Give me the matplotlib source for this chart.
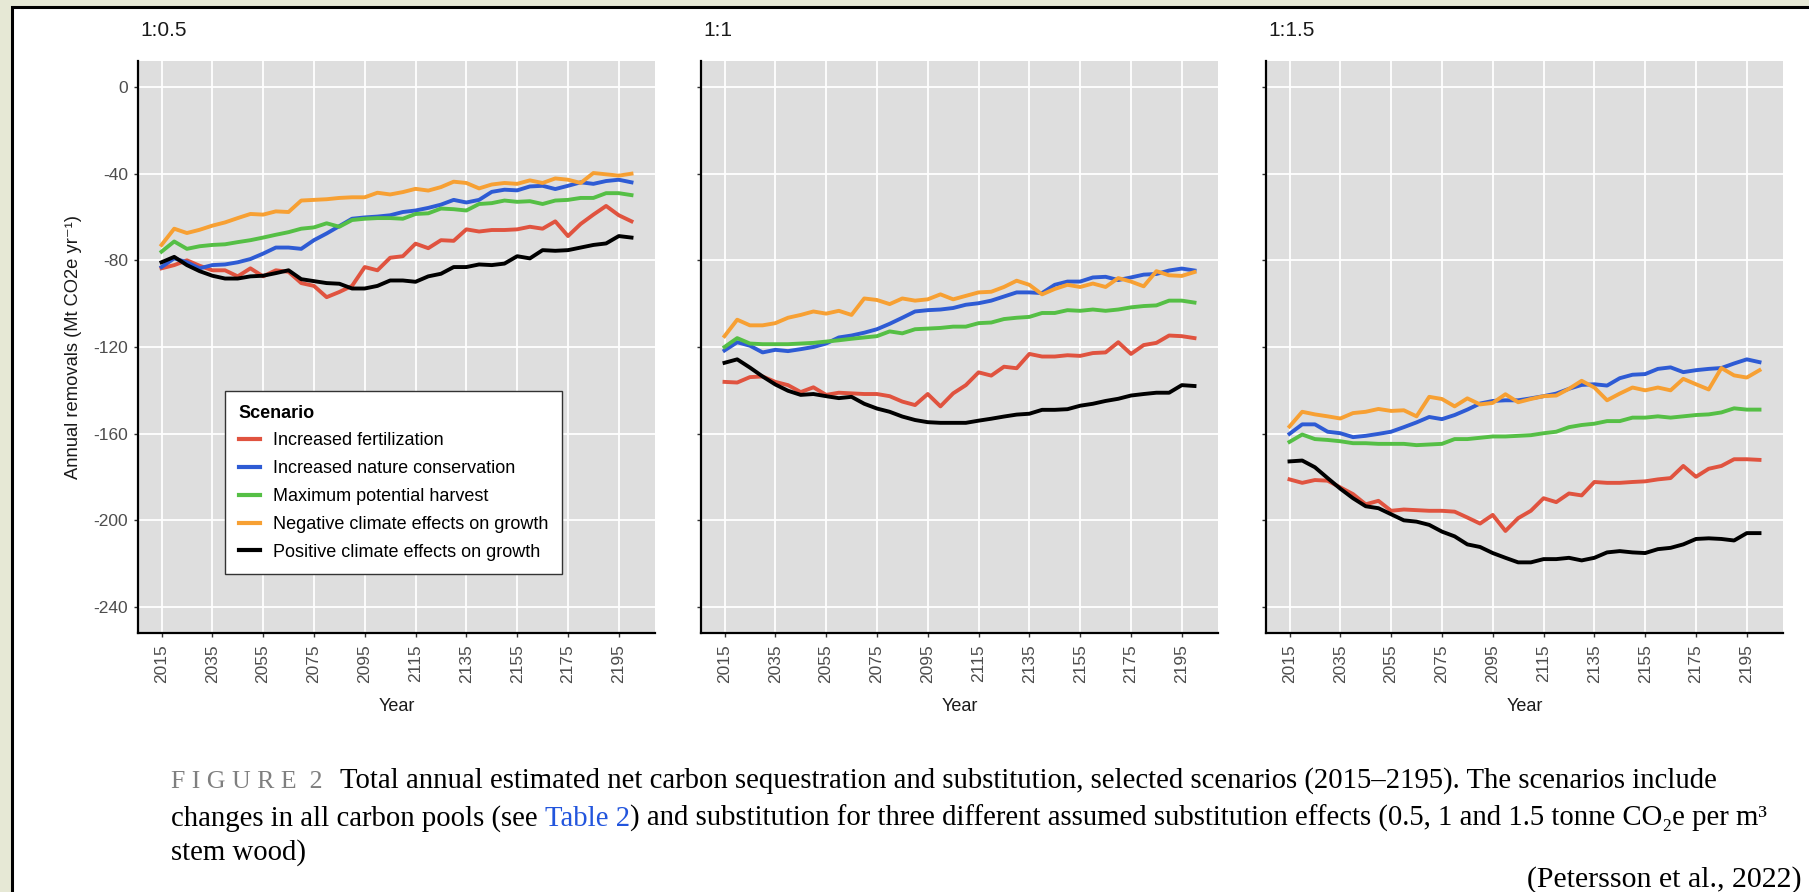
import matplotlib
matplotlib.use("Agg")
import matplotlib.pyplot as plt
from matplotlib.patches import Rectangle
import numpy as np

plt.rcParams["font.family"] = ["Liberation Sans", "DejaVu Sans"]
plt.rcParams["axes.unicode_minus"] = False

years = np.arange(2015, 2201, 5)

ratios = ["1:0.5", "1:1", "1:1.5"]
scenarios = [
    "Increased fertilization",
    "Increased nature conservation",
    "Maximum potential harvest",
    "Negative climate effects on growth",
    "Positive climate effects on growth",
]
colors = ["#E0533F", "#2E5BD4", "#55BF45", "#F7A033", "#000000"]
year_ticks = np.arange(2015, 2196, 20)
removal_ticks = np.arange(0, -241, -40)

# substitution 1:0.5
fert_05 = [-83.7, -82.2, -80.0, -82.5, -84.6, -84.6, -87.4, -83.7, -87.4, -84.6,
           -85.3, -90.5, -91.8, -97.0, -94.6, -91.8, -83.1, -84.6, -78.8, -78.1,
           -72.3, -74.4, -70.7, -71.0, -65.7, -66.7, -66.0, -66.0, -65.7, -64.5,
           -65.4, -62.0, -68.8, -63.2, -58.9, -54.9, -59.2, -62.0]
cons_05 = [-83.1, -79.1, -80.9, -83.7, -82.2, -81.9, -80.9, -79.4, -76.9, -74.1,
           -74.1, -74.7, -70.7, -67.6, -64.2, -60.8, -60.2, -59.8, -59.2, -57.7,
           -57.0, -55.8, -54.3, -52.1, -53.3, -52.1, -48.4, -47.4, -47.7, -45.9,
           -45.6, -47.1, -45.6, -44.0, -44.7, -43.4, -42.8, -44.0]
harv_05 = [-76.0, -71.3, -74.7, -73.5, -72.9, -72.6, -71.6, -70.7, -69.5, -68.2,
           -67.0, -65.4, -64.8, -62.9, -64.5, -61.4, -60.8, -60.5, -60.5, -60.8,
           -58.6, -58.3, -56.1, -56.4, -57.0, -54.0, -53.6, -52.4, -53.0, -52.7,
           -54.0, -52.4, -52.1, -51.2, -51.2, -49.0, -49.0, -49.9]
neg_05 = [-72.9, -65.4, -67.4, -65.9, -64.0, -62.5, -60.5, -58.6, -58.9, -57.4,
          -57.7, -52.4, -52.1, -51.8, -51.2, -50.9, -50.9, -48.8, -49.6, -48.5,
          -47.0, -47.8, -46.2, -43.7, -44.3, -46.8, -45.0, -44.3, -44.7, -43.1,
          -44.3, -42.2, -42.8, -44.3, -39.7, -40.3, -40.9, -40.0]
pos_05 = [-80.9, -78.4, -82.2, -85.0, -87.1, -88.4, -88.4, -87.4, -87.1, -85.9,
          -84.6, -88.7, -89.6, -90.5, -90.8, -93.0, -93.0, -91.8, -89.3, -89.3,
          -89.9, -87.4, -86.2, -83.1, -83.1, -81.9, -82.2, -81.5, -78.1, -79.1,
          -75.3, -75.6, -75.3, -74.1, -72.9, -72.2, -68.8, -69.5]

# substitution 1:1
fert_10 = [-136.1, -136.4, -133.9, -133.6, -136.1, -137.6, -140.8, -138.6, -142.1, -141.1,
           -141.4, -141.7, -141.7, -142.7, -145.2, -146.8, -141.7, -147.4, -141.4, -137.6,
           -131.7, -133.2, -129.1, -129.8, -123.2, -124.4, -124.4, -123.8, -124.1, -122.8,
           -122.5, -117.8, -123.2, -119.1, -118.1, -114.7, -115.0, -115.9]
cons_10 = [-121.6, -117.8, -119.4, -122.5, -121.3, -121.9, -121.0, -120.0, -118.4, -115.6,
           -114.7, -113.4, -111.8, -109.3, -106.5, -103.6, -103.0, -102.7, -102.0, -100.5,
           -99.8, -98.6, -96.7, -94.8, -94.8, -95.1, -91.3, -89.8, -89.8, -87.9,
           -87.6, -89.1, -87.9, -86.6, -86.3, -84.7, -83.8, -84.7]
harv_10 = [-120.0, -115.9, -118.4, -118.7, -118.7, -118.7, -118.4, -118.1, -117.5, -116.9,
           -116.2, -115.6, -115.0, -112.8, -113.7, -111.8, -111.5, -111.2, -110.6, -110.6,
           -109.0, -108.7, -107.1, -106.5, -106.1, -104.3, -104.3, -103.0, -103.3, -102.7,
           -103.3, -102.7, -101.7, -101.1, -100.8, -98.6, -98.6, -99.5]
neg_10 = [-115.0, -107.4, -110.0, -110.0, -109.0, -106.5, -105.2, -103.6, -104.6, -103.3,
          -105.2, -97.6, -98.3, -100.2, -97.6, -98.6, -98.0, -95.7, -98.0, -96.4,
          -94.8, -94.5, -92.3, -89.4, -91.3, -95.7, -93.2, -91.3, -92.3, -90.7,
          -92.3, -88.2, -89.8, -92.0, -85.0, -86.9, -87.2, -85.4]
pos_10 = [-127.3, -125.7, -129.5, -133.6, -137.3, -140.2, -142.1, -141.7, -142.7, -143.6,
          -143.0, -146.2, -148.4, -149.9, -152.1, -153.7, -154.7, -155.0, -155.0, -155.0,
          -154.0, -153.1, -152.1, -151.2, -150.8, -149.0, -149.0, -148.7, -147.1, -146.2,
          -144.9, -143.9, -142.4, -141.7, -141.1, -141.1, -137.6, -138.0]

# substitution 1:1.5
fert_15 = [-181.1, -182.7, -181.4, -181.7, -184.8, -187.9, -192.6, -191.0, -195.6, -195.0,
           -195.3, -195.6, -195.6, -196.0, -198.7, -201.5, -197.5, -204.9, -199.0, -195.6,
           -189.8, -191.6, -187.6, -188.5, -182.3, -182.7, -182.7, -182.3, -182.0, -181.1,
           -180.5, -174.9, -179.9, -176.2, -174.9, -171.8, -171.8, -172.1]
cons_15 = [-160.1, -155.7, -155.7, -159.1, -159.8, -161.6, -161.0, -160.1, -159.1, -157.0,
           -154.8, -152.3, -153.3, -151.4, -148.9, -146.1, -144.9, -144.6, -144.6, -143.7,
           -142.7, -141.5, -139.3, -137.5, -137.2, -137.8, -134.4, -132.8, -132.5, -130.1,
           -129.4, -131.6, -130.7, -130.1, -129.7, -127.6, -125.7, -127.0]
harv_15 = [-163.8, -160.4, -162.5, -162.9, -163.5, -164.4, -164.4, -164.7, -164.7, -164.7,
           -165.3, -165.0, -164.7, -162.5, -162.5, -161.9, -161.3, -161.3, -161.0, -160.7,
           -159.8, -159.1, -157.0, -156.0, -155.4, -154.2, -154.2, -152.6, -152.6, -152.0,
           -152.6, -152.0, -151.4, -151.1, -150.2, -148.3, -148.9, -148.9]
neg_15 = [-156.7, -149.9, -151.1, -152.0, -153.0, -150.5, -149.9, -148.6, -149.5, -149.2,
          -152.0, -143.0, -144.0, -147.4, -143.7, -146.5, -145.8, -141.8, -145.5, -144.0,
          -142.7, -142.4, -139.3, -135.6, -138.7, -144.6, -141.5, -138.7, -140.0, -138.7,
          -140.0, -134.7, -137.2, -139.6, -129.7, -133.1, -134.1, -130.7]
pos_15 = [-172.8, -172.4, -175.5, -180.5, -185.4, -189.8, -193.5, -194.4, -197.2, -200.0,
          -200.6, -202.1, -205.2, -207.4, -211.1, -212.3, -215.1, -217.3, -219.4, -219.4,
          -217.9, -217.9, -217.3, -218.5, -217.3, -214.8, -214.2, -214.8, -215.1, -213.3,
          -212.7, -211.1, -208.6, -208.3, -208.6, -209.3, -205.9, -205.9]

panels = [
    [fert_05, cons_05, harv_05, neg_05, pos_05],
    [fert_10, cons_10, harv_10, neg_10, pos_10],
    [fert_15, cons_15, harv_15, neg_15, pos_15],
]

W, H = 1809, 892
fig = plt.figure(figsize=(W / 100, H / 100), dpi=100, facecolor="#E6E8D5")


def fx(x):
    return x / W


def fy(y):
    return 1 - y / H


# white page with a black frame
fig.add_artist(Rectangle((fx(12), -0.1), 1.1, fy(7) + 0.1, transform=fig.transFigure,
                         facecolor="white", edgecolor="black", lw=2.2, zorder=-5))

lefts = [138, 701, 1266]
pw, top, bottom = 517, 61, 633
axes = []
for i, (left, series) in enumerate(zip(lefts, panels)):
    ax = fig.add_axes([fx(left), fy(bottom), pw / W, (bottom - top) / H])
    ax.set_facecolor("#DEDEDE")
    for name, vals, c in zip(scenarios, series, colors):
        ax.plot(years, vals, color=c, lw=2.8, label=name, solid_joinstyle="round")
    ax.set_xlim(2005.75, 2209.25)
    ax.set_ylim(-252, 12)
    ax.set_xticks(year_ticks)
    ax.set_yticks(removal_ticks)
    ax.grid(True, color="white", lw=1.3)
    ax.set_axisbelow(True)
    for s in ["top", "right"]:
        ax.spines[s].set_visible(False)
    for s in ["left", "bottom"]:
        ax.spines[s].set_color("black")
        ax.spines[s].set_linewidth(1.6)
    ax.tick_params(axis="both", length=3, width=1.0, color="#333333",
                   labelsize=12.5, labelcolor="#4D4D4D")
    ax.tick_params(axis="x", labelrotation=90, pad=5)
    ax.tick_params(axis="y", pad=4)
    if i > 0:
        ax.tick_params(axis="y", labelleft=False)
    ax.set_xlabel("Year", fontsize=13, color="#1A1A1A", labelpad=11)
    fig.text(fx(left + 2), fy(31), ratios[i], fontsize=15, color="#1A1A1A",
             ha="left", va="center")
    axes.append(ax)

axes[0].set_ylabel("Annual removals (Mt CO2e yr⁻¹)", fontsize=13.2,
                   color="#1A1A1A", labelpad=8)

leg = axes[0].legend(loc="upper left", bbox_to_anchor=(fx(225), fy(391)),
                     bbox_transform=fig.transFigure, title="Scenario",
                     fontsize=13, title_fontproperties={"weight": "bold", "size": 13},
                     alignment="left", frameon=True, fancybox=False,
                     edgecolor="#333333", framealpha=1, handlelength=1.2,
                     handletextpad=0.7, labelspacing=0.6, borderpad=0.75,
                     borderaxespad=0)
leg.get_frame().set_linewidth(1.0)
for h in leg.get_lines():
    h.set_linewidth(3)

# caption, built piece by piece so colours and sizes can change mid-line
cap_font = ["Liberation Serif", "DejaVu Serif"]
cap_size = 20.7
space = 0.25 * cap_size * 100 / 72
renderer = fig.canvas.get_renderer()
caption = [
    (788, [("F I G U R E  2", "#7F7F7F", 0, 18.5),
           ("Total annual estimated net carbon sequestration and substitution, "
            "selected scenarios (2015–2195). The scenarios include", "black",
            2.5 * space, cap_size)]),
    (826, [("changes in all carbon pools (see", "black", 0, cap_size),
           ("Table 2", "#2255DD", space, cap_size),
           (") and substitution for three different assumed substitution effects "
            "(0.5, 1 and 1.5 tonne CO₂e per m³", "black", 0, cap_size)]),
    (860, [("stem wood)", "black", 0, cap_size)]),
]
for base, pieces in caption:
    x = 171
    for text, col, gap, size in pieces:
        x += gap
        t = fig.text(fx(x), fy(base), text, color=col, fontsize=size,
                     family=cap_font, ha="left", va="baseline")
        x += t.get_window_extent(renderer=renderer).width

fig.text(fx(1802), fy(887), "(Petersson et al., 2022)", fontsize=21.5,
         family=cap_font, color="black", ha="right", va="baseline")

fig.savefig("out.png", dpi=100, facecolor=fig.get_facecolor())
